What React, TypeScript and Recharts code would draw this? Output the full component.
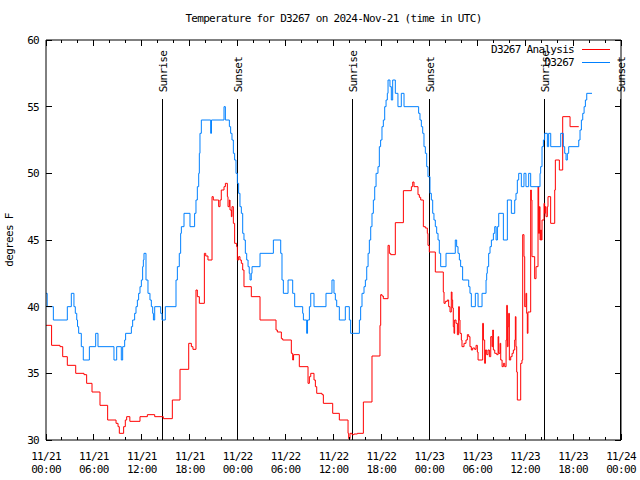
import React from 'react';
import { LineChart, Line, XAxis, YAxis, ReferenceLine } from 'recharts';

// [hours since 11/21 00:00 UTC, degrees F]
const analysisSeries: [number, number][] = [
  [0, 38.6], [0.7, 37.1], [1.75, 37], [2.09, 36.25], [2.67, 35.6], [3.72, 35], [4.76, 34.9], [5.09, 34.25],
  [5.76, 33.6], [6.76, 32.6], [7.72, 31.5], [8.77, 31.25], [9.02, 31], [9.18, 30.5], [9.72, 31], [9.93, 31.5],
  [10.1, 31.75], [10.5, 31.4], [11.77, 31.75], [12.69, 31.9], [13.61, 31.75], [14.69, 31.6], [15.82, 33],
  [16.78, 35.3], [17.87, 37.25], [18.2, 37], [18.4, 36.8], [18.78, 41.25], [18.95, 40.75], [19.2, 40.25],
  [19.83, 44], [20.0, 43.8], [20.28, 43.5], [20.79, 48.25], [20.95, 48], [21.45, 48], [21.62, 47.5], [21.79, 48],
  [21.95, 48.75], [22.29, 49], [22.46, 49.25], [22.71, 48.25], [22.79, 47.5], [22.96, 48], [23.04, 47.25],
  [23.21, 46.75], [23.29, 47.5], [23.46, 46.25], [23.62, 44.75], [23.87, 44.5], [23.96, 43.5], [24.12, 43.75],
  [24.29, 43.5], [24.46, 43.25], [24.63, 42.75], [24.79, 41.5], [25.71, 40.75], [26.8, 39], [28.8, 38.25],
  [28.97, 38.1], [29.47, 37.6], [29.64, 37.5], [30.72, 36.5], [30.89, 36], [31.0, 36.4], [31.72, 35.5],
  [32.81, 34.25], [32.98, 34.75], [33.15, 35], [33.56, 34.5], [33.73, 34], [33.9, 33.5], [34.56, 33.4],
  [34.73, 32.75], [35.9, 32], [36.73, 31.5], [37.82, 30.5], [37.9, 30.1], [38.07, 30.5], [38.32, 30.4],
  [38.57, 30.45], [38.99, 30.5], [39.74, 32.85], [40.82, 36.3], [41.82, 38.6], [41.91, 40.9], [42.07, 40.8],
  [42.24, 40.6], [42.83, 44.6], [42.99, 44], [43.16, 43.9], [43.74, 46.3], [44.75, 48.7], [45.75, 49],
  [45.92, 49.35], [46.08, 49], [46.58, 48.4], [46.75, 48.2], [46.92, 48], [47.25, 46], [47.5, 45.9],
  [47.75, 45.5], [47.83, 44.6], [48.0, 44.1], [48.75, 42.6], [49.75, 41.1], [49.84, 40.25], [50.0, 40.4],
  [50.25, 40.5], [50.42, 40], [50.59, 39.6], [50.75, 41.1], [50.84, 40.5], [50.92, 39.9], [51.0, 38.5],
  [51.09, 38], [51.17, 39], [51.34, 38.75], [51.51, 37.9], [51.67, 40], [51.76, 39], [51.84, 38], [52.01, 37.5],
  [52.09, 37], [52.34, 37.25], [52.59, 37.5], [52.76, 37.9], [52.93, 37.75], [53.09, 37], [53.26, 36.75],
  [53.43, 36.9], [53.68, 36.8], [53.85, 37.1], [54.01, 36.6], [54.1, 36], [54.68, 38.75], [54.77, 37.5],
  [54.93, 35.75], [55.02, 36.75], [55.18, 36.4], [55.35, 36.75], [55.52, 36.25], [55.69, 37.75], [55.85, 37],
  [55.94, 38.25], [56.02, 36.75], [56.19, 36.5], [56.44, 36.4], [56.61, 37.75], [56.69, 36.5], [56.86, 37.25],
  [56.94, 36], [57.11, 35.5], [57.27, 35.75], [57.44, 35.5], [57.61, 37.5], [57.69, 40.1], [57.77, 37],
  [57.86, 38.5], [57.94, 39.5], [58.02, 36], [58.19, 36.25], [58.36, 36.5], [58.52, 36.75], [58.69, 37.5],
  [58.77, 39.25], [58.85, 37], [58.94, 35.1], [59.02, 33], [59.44, 35.75], [59.6, 36], [59.69, 45.4],
  [59.85, 43.75], [59.94, 40], [60.1, 41], [60.19, 39.5], [60.27, 38], [60.35, 39.6], [60.69, 48.75],
  [60.77, 48], [60.85, 43.75], [61.19, 42.1], [61.36, 43], [61.61, 49], [61.69, 45.5], [61.78, 47.5],
  [61.86, 45], [61.94, 45.75], [62.02, 45], [62.11, 46.5], [62.36, 47.75], [62.44, 47], [62.52, 47.5],
  [62.61, 46.75], [62.78, 47.5], [62.86, 48.25], [63.19, 46.25], [63.7, 48.75], [63.78, 51], [64.28, 50.25],
  [64.7, 54.25], [65.62, 53.5], [66.71, 53.5],
];

const observedSeries: [number, number][] = [
  [0, 41], [0.15, 40], [0.92, 39], [2.67, 40], [3.17, 41], [3.5, 40], [3.67, 39.5], [3.85, 39], [3.95, 38.5],
  [4.09, 38], [4.42, 37], [4.67, 36], [5.43, 37], [6.22, 38], [6.51, 37], [8.51, 36], [8.85, 37], [9.43, 36],
  [9.6, 37], [9.85, 37.5], [9.97, 38], [10.69, 38.5], [10.85, 39], [11.1, 39.5], [11.27, 40], [11.44, 40.5],
  [11.6, 41], [11.77, 41.5], [11.94, 42], [12.1, 43], [12.19, 43.5], [12.27, 44], [12.52, 42], [12.77, 41],
  [13.02, 40.5], [13.19, 40], [13.36, 39.5], [13.45, 39], [13.61, 40], [14.36, 39.5], [14.53, 39], [14.94, 40],
  [16.28, 42], [16.45, 43], [16.69, 44], [16.86, 45.5], [16.95, 46], [17.28, 47], [18.03, 46], [18.61, 47],
  [18.78, 48], [18.95, 49], [19.12, 50], [19.2, 51.5], [19.28, 53], [19.45, 54], [20.62, 53], [20.72, 54],
  [22.29, 55], [22.46, 54], [22.96, 53.5], [23.12, 53], [23.29, 52.5], [23.46, 51.5], [23.62, 51], [23.79, 50],
  [23.96, 49.25], [24.12, 48.5], [24.29, 47.5], [24.46, 47], [24.63, 45.5], [24.79, 45], [24.96, 44],
  [25.13, 43.5], [25.3, 43], [25.45, 42.5], [25.55, 42], [25.7, 42.5], [25.8, 43], [26.8, 44], [28.47, 45],
  [29.39, 44], [29.55, 42], [29.72, 41], [30.31, 42], [30.89, 41], [31.14, 40], [32.14, 39.5], [32.23, 39],
  [32.64, 38], [32.75, 39], [32.98, 40], [33.15, 41], [33.56, 40], [35.06, 41], [35.81, 42], [36.06, 41],
  [36.23, 40.5], [36.4, 40], [36.73, 39], [37.48, 40], [37.98, 39], [38.15, 38], [39.24, 39], [39.4, 40],
  [39.57, 41], [39.82, 41.5], [39.99, 42], [40.16, 43], [40.33, 44], [40.49, 45], [40.66, 46], [40.82, 47],
  [40.99, 48], [41.16, 49], [41.33, 50], [41.57, 50.5], [41.74, 52], [41.9, 52.5], [42.07, 53.5], [42.24, 54],
  [42.41, 55], [42.58, 55.5], [42.74, 56], [42.83, 57], [43.07, 56.5], [43.24, 55.5], [43.41, 57], [43.74, 56],
  [44.07, 55], [44.49, 56], [44.83, 55], [46.66, 54.5], [46.83, 54], [47.0, 53.5], [47.17, 53], [47.33, 52],
  [47.5, 51.5], [47.67, 50.5], [47.83, 49.75], [48.08, 48.5], [48.25, 48], [48.42, 47], [48.58, 46.5],
  [48.75, 46], [48.92, 45.5], [49.09, 45], [49.25, 44], [49.42, 43], [50.09, 44], [51.25, 45], [51.42, 44.5],
  [51.59, 44], [51.76, 43.5], [51.92, 43], [52.17, 42], [52.93, 41.5], [53.09, 41], [53.26, 40], [53.76, 41],
  [54.1, 40], [54.6, 41], [55.1, 42], [55.18, 42.5], [55.26, 43], [55.43, 44], [55.6, 44.5], [55.77, 45],
  [56.02, 45.5], [56.19, 46], [56.36, 45], [56.52, 46], [56.69, 47], [57.27, 45], [57.77, 48], [58.27, 47],
  [58.69, 48], [58.85, 48.5], [59.02, 49.5], [59.19, 50], [59.52, 49], [59.85, 50], [60.1, 49], [60.44, 50],
  [60.69, 49], [61.86, 50], [61.94, 50.5], [62.11, 52], [62.28, 52.5], [62.44, 53], [62.78, 52], [62.94, 53],
  [63.2, 52], [64.45, 53], [64.78, 52], [64.95, 51.5], [65.12, 51], [65.28, 51.5], [65.45, 52], [66.71, 52.5],
  [66.87, 53.25], [67.04, 54], [67.21, 54.5], [67.38, 55], [67.54, 55.5], [67.71, 56], [68.37, 56],
];

const sunLabels = ['Sunrise', 'Sunset', 'Sunrise', 'Sunset', 'Sunrise', 'Sunset'];
const sunHours = [14.53, 23.92, 38.44, 47.96, 62.48, 71.95];
const sunLineTop = 55.55;

const xTicks = Array.from({ length: 37 }, (_, i) => i * 2);
const yTicks = [30, 35, 40, 45, 50, 55, 60];

const FONT = '"DejaVu Sans Mono", "Liberation Mono", monospace';
const textStyle = { fontFamily: FONT, fontSize: 11, letterSpacing: -0.7 };

const analysisData = analysisSeries.map(([h, t]) => ({ h, t }));
const observedData = observedSeries.map(([h, t]) => ({ h, t }));

const pad = (n: number) => (n < 10 ? `0${n}` : `${n}`);

const BottomTick = ({ x, y, payload }: any) => {
  const h = payload.value as number;
  const major = h % 6 === 0;
  return (
    <g>
      <line x1={x} x2={x} y1={y} y2={y - (major ? 6 : 3)} stroke="#000" shapeRendering="crispEdges" />
      {major && (
        <text textAnchor="middle" fill="#000" style={textStyle}>
          <tspan x={x} y={y + 20}>{`11/${21 + Math.floor(h / 24)}`}</tspan>
          <tspan x={x} y={y + 33}>{`${pad(h % 24)}:00`}</tspan>
        </text>
      )}
    </g>
  );
};

const TopTick = ({ x, y, payload }: any) => {
  const major = (payload.value as number) % 6 === 0;
  return <line x1={x} x2={x} y1={y} y2={y + (major ? 6 : 3)} stroke="#000" shapeRendering="crispEdges" />;
};

const LeftTick = ({ x, y, payload }: any) => (
  <g>
    <line x1={x} x2={x + 6} y1={y} y2={y} stroke="#000" shapeRendering="crispEdges" />
    <text x={x - 7} y={y + 4} textAnchor="end" fill="#000" style={textStyle}>{payload.value}</text>
  </g>
);

const RightTick = ({ x, y }: any) => (
  <line x1={x} x2={x - 6} y1={y} y2={y} stroke="#000" shapeRendering="crispEdges" />
);

const SunMark = ({ x1, y1, x2, y2, label }: any) => {
  const top = Math.min(y1, y2);
  return (
    <g>
      <line x1={x1} y1={y1} x2={x2} y2={y2} stroke="#000" shapeRendering="crispEdges" />
      <text transform={`translate(${x1 + 4.5},${top - 7}) rotate(-90)`} fill="#000" style={textStyle}>
        {label}
      </text>
    </g>
  );
};

const legendItems = [
  { name: 'D3267 Analysis', color: '#ff0000' },
  { name: 'D3267', color: '#0080ff' },
];

export default function App() {
  return (
    <div style={{ position: 'absolute', left: 0, top: 0, width: 640, height: 480, background: '#fff' }}>
      <LineChart width={640} height={480} margin={{ top: 39, right: 18, bottom: 0, left: 0 }}>
        <XAxis
          dataKey="h"
          type="number"
          domain={[0, 72]}
          ticks={xTicks}
          interval={0}
          height={40}
          tickSize={0}
          tickMargin={0}
          tickLine={false}
          stroke="#000"
          tick={<BottomTick />}
          allowDataOverflow
        />
        <XAxis
          xAxisId="top"
          orientation="top"
          dataKey="h"
          type="number"
          domain={[0, 72]}
          ticks={xTicks}
          interval={0}
          height={1}
          tickSize={0}
          tickMargin={0}
          tickLine={false}
          stroke="#000"
          tick={<TopTick />}
          allowDataOverflow
        />
        <YAxis
          type="number"
          domain={[30, 60]}
          ticks={yTicks}
          interval={0}
          width={46}
          tickSize={0}
          tickMargin={0}
          tickLine={false}
          stroke="#000"
          tick={<LeftTick />}
          allowDataOverflow
        />
        <YAxis
          yAxisId="right"
          orientation="right"
          type="number"
          domain={[30, 60]}
          ticks={yTicks}
          interval={0}
          width={1}
          tickSize={0}
          tickMargin={0}
          tickLine={false}
          stroke="#000"
          tick={<RightTick />}
          allowDataOverflow
        />
        {sunHours.map((h, i) => (
          <ReferenceLine
            key={`sun-${i}`}
            segment={[{ x: h, y: 30 }, { x: h, y: sunLineTop }]}
            shape={(p: any) => <SunMark {...p} label={sunLabels[i]} />}
          />
        ))}
        <Line
          data={analysisData}
          dataKey="t"
          name="D3267 Analysis"
          type="stepAfter"
          stroke="#ff0000"
          strokeWidth={1}
          dot={false}
          activeDot={false}
          isAnimationActive={false}
        />
        <Line
          data={observedData}
          dataKey="t"
          name="D3267"
          type="stepAfter"
          stroke="#0080ff"
          strokeWidth={1}
          dot={false}
          activeDot={false}
          isAnimationActive={false}
        />
      </LineChart>

      <div
        style={{
          ...textStyle,
          position: 'absolute',
          left: 0,
          top: 12,
          width: 667,
          textAlign: 'center',
          lineHeight: '14px',
        }}
      >
        Temperature for D3267 on 2024-Nov-21 (time in UTC)
      </div>

      <div
        style={{
          ...textStyle,
          position: 'absolute',
          left: 10,
          top: 240,
          transform: 'translate(-50%, -50%) rotate(-90deg)',
          whiteSpace: 'nowrap',
          lineHeight: '14px',
        }}
      >
        degrees F
      </div>

      {legendItems.map((item, i) => (
        <div
          key={item.name}
          style={{ position: 'absolute', top: 43 + i * 13, right: 30, height: 13, display: 'flex', alignItems: 'center' }}
        >
          <span style={{ ...textStyle, lineHeight: '13px', whiteSpace: 'nowrap' }}>{item.name}</span>
          <span style={{ display: 'inline-block', width: 28, height: 1, background: item.color, marginLeft: 8 }} />
        </div>
      ))}
    </div>
  );
}
